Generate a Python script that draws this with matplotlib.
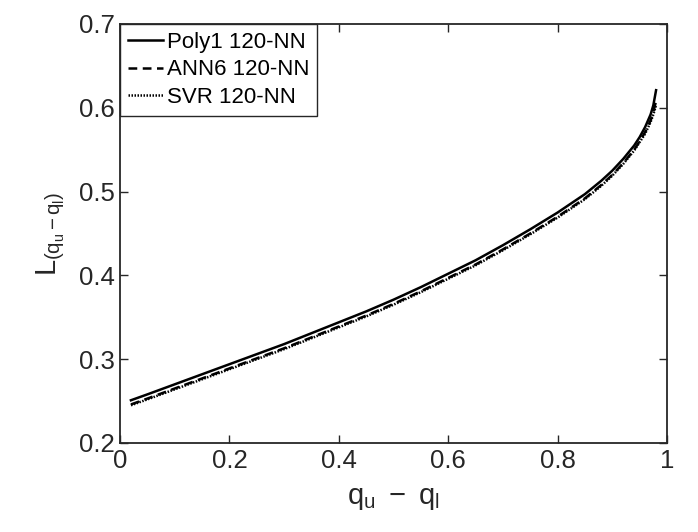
import matplotlib
matplotlib.use("Agg")
import matplotlib.pyplot as plt

plt.rcParams['font.family'] = ['Liberation Sans', 'DejaVu Sans']
plt.rcParams['mathtext.fontset'] = 'custom'
plt.rcParams['mathtext.rm'] = 'Liberation Sans'
plt.rcParams['mathtext.it'] = 'Liberation Sans'

# x = q_u - q_l
x = [0.02, 0.05, 0.1, 0.15, 0.2, 0.25, 0.3, 0.35, 0.4, 0.45, 0.5, 0.55, 0.6, 0.65,
     0.7, 0.75, 0.8, 0.85, 0.88, 0.9, 0.92, 0.94, 0.95, 0.96, 0.97, 0.975, 0.98]

poly1 = [0.251, 0.258, 0.270, 0.282, 0.294, 0.306, 0.318, 0.331, 0.344, 0.357, 0.371,
         0.386, 0.402, 0.418, 0.436, 0.455, 0.475, 0.497, 0.513, 0.525, 0.539, 0.555,
         0.565, 0.577, 0.592, 0.603, 0.621]
ann6 = [0.246, 0.253, 0.265, 0.277, 0.289, 0.301, 0.313, 0.326, 0.339, 0.352, 0.366,
        0.381, 0.397, 0.413, 0.431, 0.450, 0.470, 0.492, 0.508, 0.520, 0.534, 0.550,
        0.560, 0.571, 0.585, 0.595, 0.608]
svr = [0.245, 0.252, 0.264, 0.276, 0.288, 0.300, 0.312, 0.325, 0.338, 0.351, 0.365,
       0.380, 0.396, 0.412, 0.430, 0.449, 0.469, 0.491, 0.507, 0.519, 0.533, 0.549,
       0.559, 0.569, 0.583, 0.592, 0.603]

labels = ["Poly1 120-NN", "ANN6 120-NN", "SVR 120-NN"]

fig = plt.figure(figsize=(6.98, 5.32), dpi=100)
ax = fig.add_axes([0.1719, 0.1673, 0.7837, 0.7876])

ax.plot(x, poly1, '-', color='k', lw=1.8, label=labels[0])
ax.plot(x, ann6, '--', color='k', lw=1.8, dashes=(3.5, 2.2), label=labels[1])
ax.plot(x, svr, ':', color='k', lw=1.8, dashes=(0.6, 0.6), label=labels[2])

ax.set_xlim(0, 1)
ax.set_ylim(0.2, 0.7)
ax.set_xticks([0, 0.2, 0.4, 0.6, 0.8, 1])
ax.set_xticklabels(['0', '0.2', '0.4', '0.6', '0.8', '1'])
ax.set_yticks([0.2, 0.3, 0.4, 0.5, 0.6, 0.7])

dark = '#262626'
for s in ax.spines.values():
    s.set_color(dark)
    s.set_linewidth(1.3)
ax.tick_params(direction='in', length=6, width=1.0, colors=dark, labelsize=18.5,
               top=True, right=True, pad=4)

ax.set_xlabel(r'$q_{u}\ -\ q_{l}$', fontsize=21, color=dark, labelpad=8)
ax.set_ylabel(r'$L_{(q_{u}-q_{l})}$', fontsize=21, color=dark, labelpad=8)

leg = ax.legend(loc='upper left', bbox_to_anchor=(0, 1), borderaxespad=0,
                fancybox=False, edgecolor=dark, framealpha=1, fontsize=16,
                handlelength=1.6, handletextpad=0.15, labelspacing=0.3,
                borderpad=0.35)
leg.get_frame().set_linewidth(1.0)

fig.savefig('out.png', dpi=100)
